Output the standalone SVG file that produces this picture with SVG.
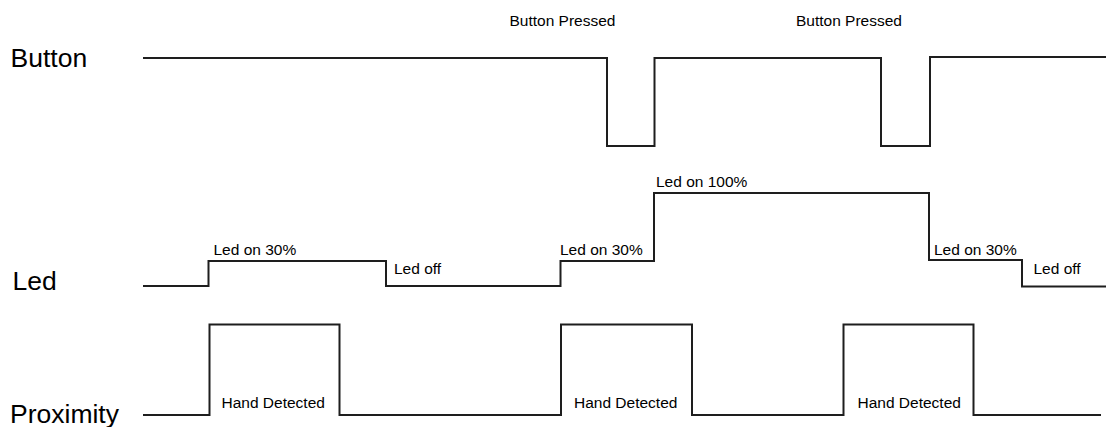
<svg xmlns="http://www.w3.org/2000/svg" width="1106" height="427" viewBox="0 0 1106 427">
<style>
.sig{fill:none;stroke:#1e1e1e;stroke-width:2;stroke-linejoin:miter;stroke-linecap:butt}
.big{font-family:"Liberation Sans",Arial,sans-serif;font-size:26.5px;fill:#000}
.sm{font-family:"Liberation Sans",Arial,sans-serif;font-size:15.5px;fill:#000}
</style>
<rect width="1106" height="427" fill="#fff"/>
<g id="button">
<text class="big" x="10.5" y="66.5">Button</text>
<path class="sig" d="M143 58H607V146H654.5V58H881V146H930V57H1106"/>
<text class="sm" x="509.5" y="26">Button Pressed</text>
<text class="sm" x="796" y="26">Button Pressed</text>
</g>
<g id="led">
<text class="big" x="12.5" y="290">Led</text>
<path class="sig" d="M143 286H208.5V261H386V286H560.5V261H654V193H929V260H1022V286.5H1106"/>
<text class="sm" x="213.5" y="255">Led on 30%</text>
<text class="sm" x="394" y="274">Led off</text>
<text class="sm" x="560" y="254.5">Led on 30%</text>
<text class="sm" x="656" y="186.5">Led on 100%</text>
<text class="sm" x="934" y="254.5">Led on 30%</text>
<text class="sm" x="1033.5" y="274">Led off</text>
</g>
<g id="proximity">
<text class="big" x="10" y="423">Proximity</text>
<path class="sig" d="M143 415H209.5V324.5H339.5V415H561V324.5H692V415H843.5V324.5H973.5V415H1101"/>
<text class="sm" x="221.5" y="407.5">Hand Detected</text>
<text class="sm" x="574" y="407.5">Hand Detected</text>
<text class="sm" x="857.5" y="407.5">Hand Detected</text>
</g>
</svg>
